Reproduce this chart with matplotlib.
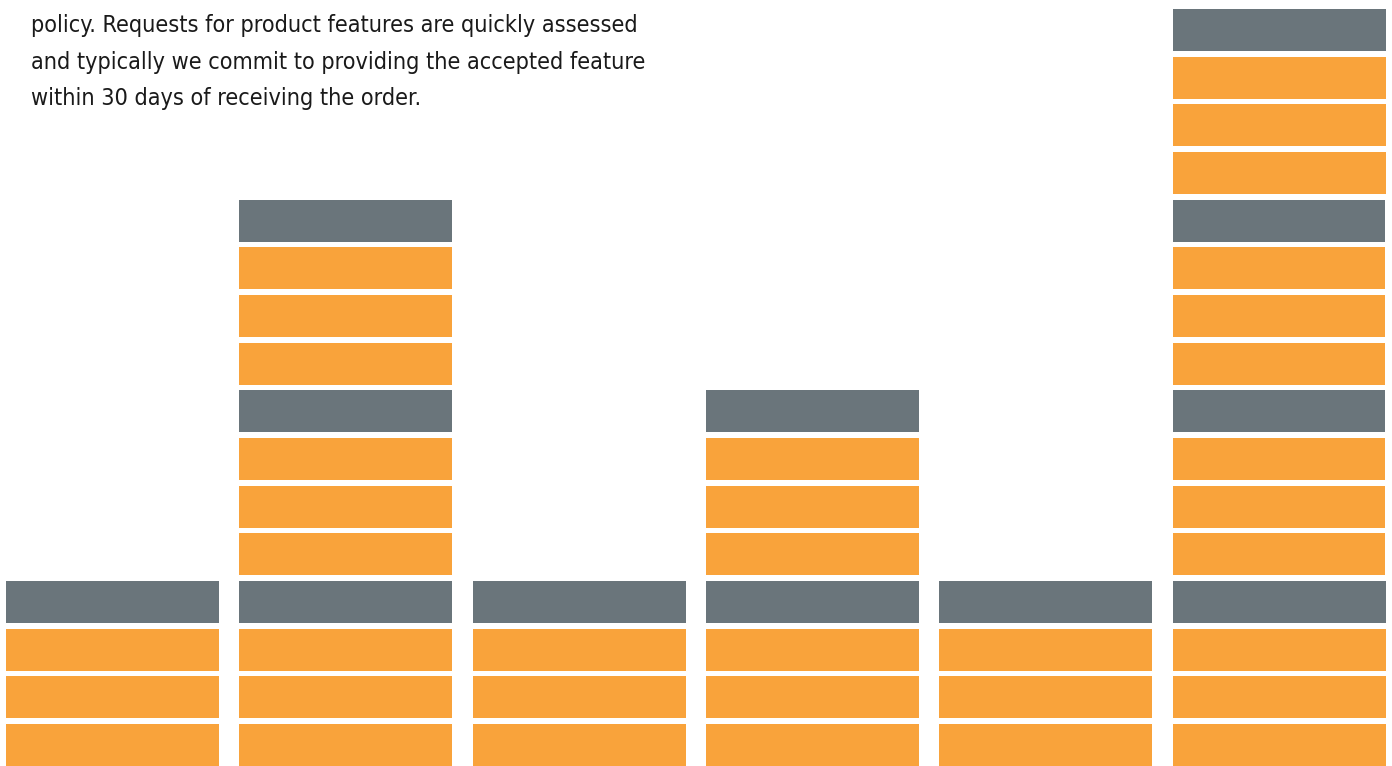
import matplotlib
matplotlib.use("Agg")
import matplotlib.pyplot as plt
from matplotlib import font_manager

# ---- data ----
columns = ["A", "B", "C", "D", "E", "F"]
block_counts = [4, 12, 4, 8, 4, 16]
group_size = 4  # every 4th block is grey
text_lines = [
    "policy. Requests for product features are quickly assessed",
    "and typically we commit to providing the accepted feature",
    "within 30 days of receiving the order.",
]

orange = "#f9a33b"
grey = "#6a757b"

W, H = 1392, 766
fig = plt.figure(figsize=(W / 100, H / 100), dpi=100)
ax = fig.add_axes([0, 0, 1, 1])
ax.set_axis_off()

pitch_px = 233.3
center0_px = 112.5
ax.set_xlim(-center0_px / pitch_px, (W - center0_px) / pitch_px)
unit_px = 47.67
ax.set_ylim(0, H / unit_px)

block_h = 42.0 / unit_px
bar_w = 213.0 / pitch_px
for k in range(max(block_counts)):
    sel = [i for i, c in enumerate(block_counts) if c > k]
    col = grey if (k % group_size) == group_size - 1 else orange
    ax.bar(sel, [block_h] * len(sel), bottom=k, width=bar_w, color=col,
           linewidth=0, align="center")

# pick a condensed face if one is installed
family, stretch = "DejaVu Sans", "normal"
entries = font_manager.fontManager.ttflist
names = {f.name for f in entries}
if "Liberation Sans Narrow" in names:
    family, stretch = "Liberation Sans Narrow", "normal"
else:
    for pref in ["DejaVu Sans", "Noto Sans", "Open Sans", "Roboto"]:
        hits = [f for f in entries if f.name == pref and f.style == "normal"
                and str(f.stretch) in ("condensed", "semi-condensed", "75", "87.5")
                and f.weight in (400, "normal", "regular")]
        if hits:
            family, stretch = pref, hits[0].stretch
            break

fs = 17.0
baselines = [32, 68.5, 105]
texts = []
for line, b in zip(text_lines, baselines):
    t = fig.text(31 / W, 1 - b / H, line, fontsize=fs, family=family,
                 fontstretch=stretch, color="#1a1a1a", va="baseline", ha="left")
    texts.append(t)

# fit font size so the second line spans ~611 px
fig.canvas.draw()
r = fig.canvas.get_renderer()
wpx = texts[1].get_window_extent(r).width
scale = 611.0 / wpx
for t in texts:
    t.set_fontsize(fs * scale)

fig.savefig("out.png", dpi=100)
